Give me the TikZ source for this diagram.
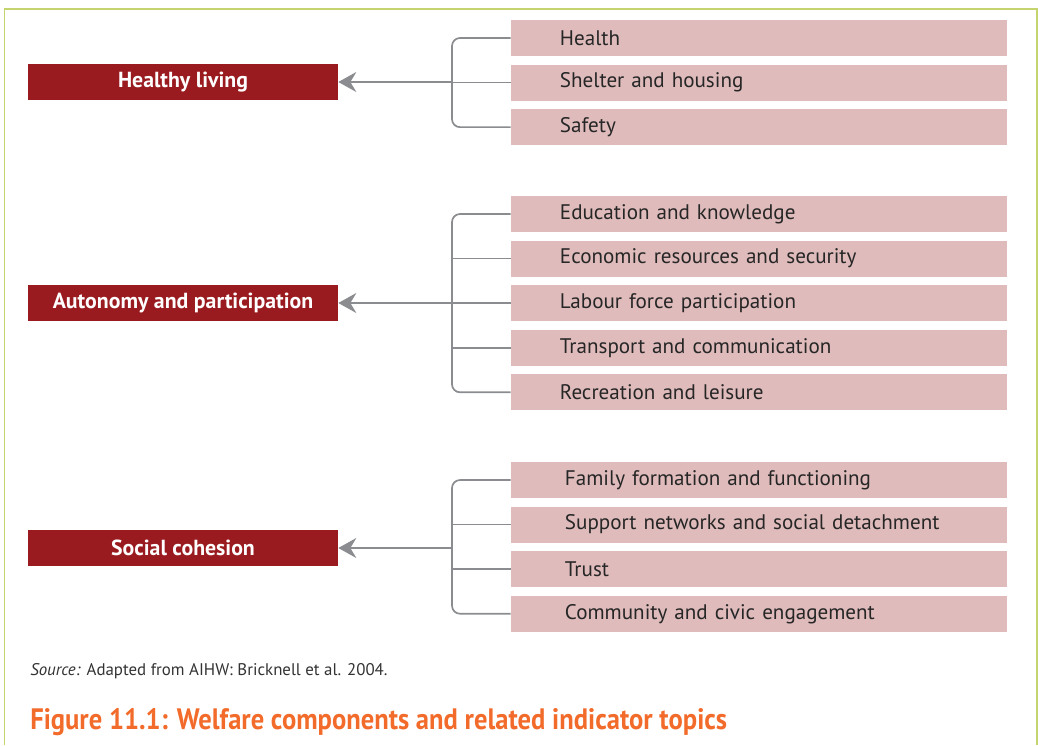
\documentclass[tikz,border=0pt]{standalone}
\usepackage{fontspec}
\setmainfont{PT Sans}
\usepackage{tikz}
\usetikzlibrary{arrows.meta,positioning}

\definecolor{compred}{HTML}{9A1B1F}
\definecolor{topicpink}{HTML}{DFBBBB}
\definecolor{linkgrey}{HTML}{8A8C8F}
\definecolor{framegreen}{HTML}{C5D46E}
\definecolor{captionorange}{HTML}{F26B2A}

\begin{document}
\begin{tikzpicture}[x=0.025cm, y=-0.025cm, node distance=0.2cm,
	every node/.style={font=\fontsize{15}{17}\selectfont},
	comp/.style={fill=compred, text=white, font=\fontsize{15.5}{17}\selectfont\bfseries, minimum width=7.75cm, minimum height=0.9cm, inner sep=0pt},
	topic/.style={fill=topicpink, text=black!85, minimum height=0.9cm, inner ysep=0pt, inner xsep=1.225cm, text width=9.95cm, align=left},
	topicb/.style={topic, inner xsep=1.35cm, text width=9.7cm},
	link/.style={draw=linkgrey, line width=1.2pt},
	brace/.style={link, rounded corners=0.2cm},
	toarrow/.style={link, -{Stealth[length=0.45cm, width=0.5cm, inset=0.15cm]}}]
	\useasboundingbox (0,0) rectangle (1038,745);
	% outer frame, open at the bottom
	\draw[framegreen, line width=1.4pt] (4.5,745) -- (4.5,9) -- (1037,9) -- (1037,745);

	% welfare components
	\node[comp] (c1) at (183,82) {Healthy living};
	\node[comp] (c2) at (183,303) {Autonomy and participation};
	\node[comp] (c3) at (183,548) {Social cohesion};

	% indicator topics
	\node[topic] (t1) at (759,38) {Health};
	\node[topic, below=of t1] (t2) {Shelter and housing};
	\node[topic, below=of t2] (t3) {Safety};

	\node[topic] (t4) at (759,214) {Education and knowledge};
	\node[topic, below=of t4] (t5) {Economic resources and security};
	\node[topic, below=of t5] (t6) {Labour force participation};
	\node[topic, below=of t6] (t7) {Transport and communication};
	\node[topic, below=of t7] (t8) {Recreation and leisure};

	\node[topicb] (t9) at (759,480) {Family formation and functioning};
	\node[topicb, below=of t9] (t10) {Support networks and social detachment};
	\node[topicb, below=of t10] (t11) {Trust};
	\node[topicb, below=of t11] (t12) {Community and civic engagement};

	% brackets joining the topics
	\coordinate (b1) at (452,82);
	\coordinate (b2) at (452,303);
	\coordinate (b3) at (452,548);

	\draw[brace] (t1.west) -| (b1) |- (t3.west);
	\draw[link] (t2.west) -- (t2.west -| b1);
	\draw[toarrow] (b1) -- (c1.east);

	\draw[brace] (t4.west) -| (b2) |- (t8.west);
	\foreach \t in {t5,t6,t7}
		\draw[link] (\t.west) -- (\t.west -| b2);
	\draw[toarrow] (b2) -- (c2.east);

	\draw[brace] (t9.west) -| (b3) |- (t12.west);
	\foreach \t in {t10,t11}
		\draw[link] (\t.west) -- (\t.west -| b3);
	\draw[toarrow] (b3) -- (c3.east);

	% source and caption
	\node[anchor=west, inner xsep=0pt, text=black!80, font=\fontsize{12}{14}\selectfont] (src) at (30,671) {\textit{Source:} Adapted from AIHW: Bricknell et al. 2004.};
	\node[anchor=west, inner xsep=0pt, text=captionorange, font=\fontsize{21}{24}\selectfont\bfseries] (cap) at (30,722) {\scalebox{0.9}[1]{Figure 11.1: Welfare components and related indicator topics}};
\end{tikzpicture}
\end{document}
